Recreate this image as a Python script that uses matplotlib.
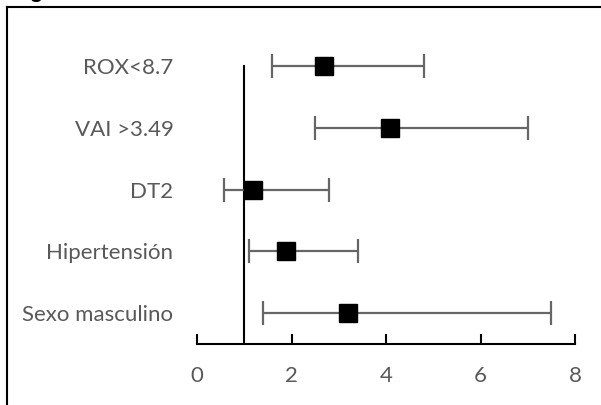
import matplotlib
matplotlib.use("Agg")
import matplotlib.pyplot as plt
from matplotlib.lines import Line2D
import numpy as np

labels = ["ROX<8.7", "VAI >3.49", "DT2", "Hipertensión", "Sexo masculino"]
or_vals = [2.69, 4.09, 1.18, 1.89, 3.20]
ci_low = [1.59, 2.50, 0.58, 1.09, 1.39]
ci_high = [4.80, 7.00, 2.80, 3.40, 7.49]
xticks = [0, 2, 4, 6, 8]
ref_value = 1

plt.rcParams['font.family'] = ['Lato', 'DejaVu Sans']

W, H = 601, 405
fig = plt.figure(figsize=(W / 100, H / 100), dpi=100)
fig.patch.set_facecolor('white')

ax_l, ax_r = 197, 575
ax_bottom_px, ax_top_px = 344, 344 - 5 * 61.75
ax = fig.add_axes([ax_l / W, (H - ax_bottom_px) / H, (ax_r - ax_l) / W,
                   (ax_bottom_px - ax_top_px) / H])

n = len(labels)
ypos = np.arange(n, 0, -1)
or_arr = np.array(or_vals)
err = [or_arr - np.array(ci_low), np.array(ci_high) - or_arr]

ax.errorbar(or_arr, ypos, xerr=err, fmt='none', ecolor='#666666',
            elinewidth=1.6, capsize=8.5, capthick=1.6, zorder=2)
ax.plot(or_arr, ypos, linestyle='none', marker='s', markersize=12.3,
        color='black', zorder=3)
ax.plot([ref_value, ref_value], [0.5, n], color='black', lw=1.5, zorder=1)

ax.set_xlim(0, 8)
ax.set_ylim(0.5, n + 0.5)
ax.set_xticks(xticks)
ax.set_xticklabels([str(t) for t in xticks])
ax.set_yticks(ypos)
ax.set_yticklabels(labels)

for s in ['top', 'right', 'left']:
    ax.spines[s].set_visible(False)
ax.spines['bottom'].set_linewidth(1.5)
ax.spines['bottom'].set_color('black')
ax.tick_params(axis='x', direction='in', length=7, width=1.5, color='black',
               pad=16, labelsize=16, labelcolor='#595959')
ax.tick_params(axis='y', length=0, pad=17, labelsize=16, labelcolor='#595959')

# outer frame (left and top edges)
fig.add_artist(Line2D([6.5 / W, 6.5 / W], [0, 1 - 7 / H], transform=fig.transFigure,
                      color='black', lw=1.5))
fig.add_artist(Line2D([6.5 / W, 1], [1 - 7 / H, 1 - 7 / H], transform=fig.transFigure,
                      color='black', lw=1.5))

fig.text(14 / W, 1 + 1.5 / H, 'Figura', fontsize=15, fontweight='bold',
         color='black', va='baseline', ha='left')

fig.savefig('out.png', dpi=100)
